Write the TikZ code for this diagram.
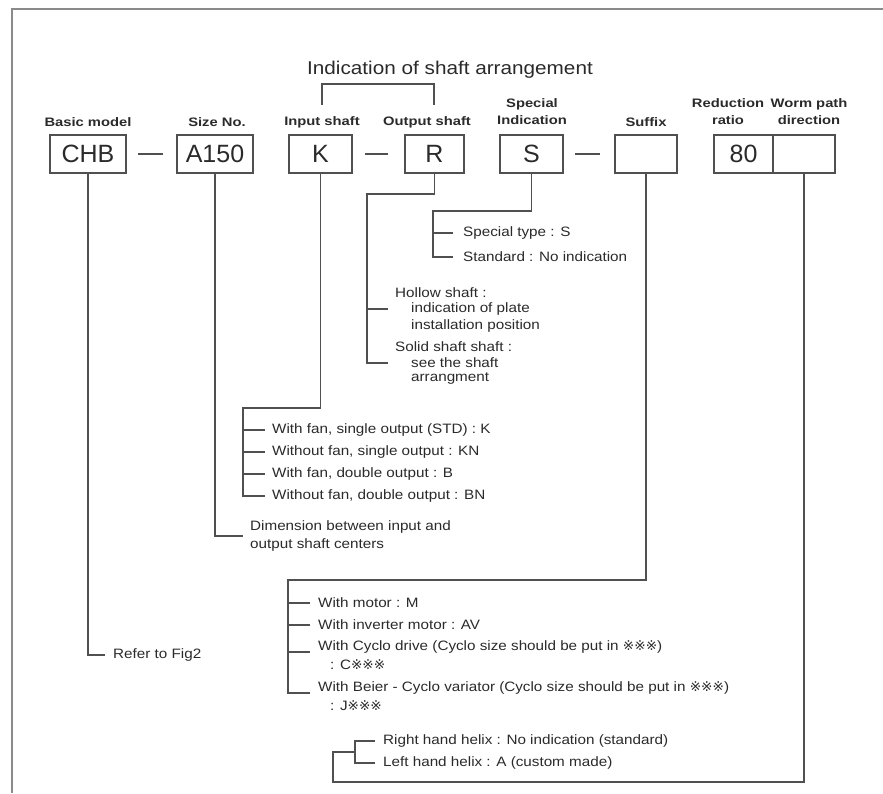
\documentclass[tikz,border=0pt]{standalone}
\usepackage{fontspec}
\setmainfont{Liberation Sans}
\newfontfamily\bodyf[FakeStretch=1.12]{Liberation Sans}
\newfontfamily\labf[FakeStretch=1.2]{Liberation Sans}
\newfontfamily\symf{DejaVu Sans}
\newcommand{\kome}{{\symf ※}}
\definecolor{linec}{HTML}{505050}
\definecolor{txtc}{HTML}{2A2A2A}
\definecolor{framec}{HTML}{8A8A8A}
\tikzset{
  ln/.style={draw=linec, line width=1.3pt},
  cbox/.style={draw=linec, line width=1.3pt, minimum height=38pt, inner sep=0pt, text=txtc, font=\fontsize{25}{28}\selectfont},
  lab/.style={font=\labf\bfseries\fontsize{12.3}{17}\selectfont, align=center, inner sep=0pt, text=txtc},
  txt/.style={font=\bodyf\fontsize{13.6}{15}\selectfont, anchor=west, inner sep=0pt, text=txtc},
}
\begin{document}
\begin{tikzpicture}[x=1pt,y=-1pt]
\useasboundingbox (0,0) rectangle (883,793);
% frame
\draw[framec, line width=2pt] (12,793) -- (12,9) -- (883,9);
% title
\node[font=\bodyf\fontsize{18.5}{20}\selectfont, text=txtc, inner sep=0pt] (title) at (450,70) {Indication of shaft arrangement};
% boxes
\node[cbox, minimum width=76pt] (chb) at (88,154) {CHB};
\node[cbox, minimum width=76pt] (a150) at (215,154) {A150};
\node[cbox, minimum width=63pt] (k) at (320.5,154) {K};
\node[cbox, minimum width=59pt] (r) at (434.5,154) {R};
\node[cbox, minimum width=63pt] (s) at (531.5,154) {S};
\node[cbox, minimum width=62pt] (suf) at (646,154) {};
\node[cbox, minimum width=59pt] (ratio) at (743.5,154) {80};
\node[cbox, minimum width=62pt] (worm) at (804,154) {};
% dashes
\coordinate (d1a) at (138,154); \coordinate (d1b) at (163,154);
\coordinate (d2a) at (365,154); \coordinate (d2b) at (388,154);
\coordinate (d3a) at (575,154); \coordinate (d3b) at (600,154);
\draw[ln] (d1a) -- (d1b);
\draw[ln] (d2a) -- (d2b);
\draw[ln] (d3a) -- (d3b);
% labels
\node[lab] (lbasic) at (88,122) {Basic model};
\node[lab] (lsize) at (217,122) {Size No.};
\node[lab] (lin) at (322,122) {Input shaft};
\node[lab] (lout) at (427,122) {Output shaft};
\node[lab] (lspec) at (532,112) {Special\\Indication};
\node[lab] (lsuf) at (646,122) {Suffix};
\node[lab] (lred) at (728,112) {Reduction\\ratio};
\node[lab] (lworm) at (809,112) {Worm path\\direction};
% bracket over input/output shaft
\coordinate (bl) at (322,105); \coordinate (br) at (434,105);
\draw[ln] (bl) -- (322,84) -- (434,84) -- (br);
% texts
\node[txt] (reffig) at (113,655) {Refer to Fig2};
\node[txt] (dim1) at (250,527) {Dimension between input and};
\node[txt] (dim2) at (250,545) {output shaft centers};
\node[txt] (k1) at (272,430) {With fan, single output (STD) : K};
\node[txt] (k2) at (272,452) {Without fan, single output : KN};
\node[txt] (k3) at (272,474) {With fan, double output : B};
\node[txt] (k4) at (272,496) {Without fan, double output : BN};
\node[txt] (h1) at (395,293) {Hollow shaft :};
\node[txt] (h2) at (411,309) {indication of plate};
\node[txt] (h3) at (411,326) {installation position};
\node[txt] (so1) at (395,347) {Solid shaft shaft :};
\node[txt] (so2) at (411,363) {see the shaft};
\node[txt] (so3) at (411,379) {arrangment};
\node[txt] (s1) at (463,233) {Special type : S};
\node[txt] (s2) at (463,257) {Standard : No indication};
\node[txt] (m1) at (318,603) {With motor : M};
\node[txt] (m2) at (318,625) {With inverter motor : AV};
\node[txt] (m3) at (318,647) {With Cyclo drive (Cyclo size should be put in \kome\kome\kome)};
\node[txt] (m3b) at (330,665) {: C\kome\kome\kome};
\node[txt] (m4) at (318,688) {With Beier - Cyclo variator (Cyclo size should be put in \kome\kome\kome)};
\node[txt] (m4b) at (330,706) {: J\kome\kome\kome};
\node[txt] (w1) at (383,741) {Right hand helix : No indication (standard)};
\node[txt] (w2) at (383,763) {Left hand helix : A (custom made)};
% connectors
\draw[ln] (chb.south) |- ([xshift=-8pt]reffig.west);
\draw[ln] (a150.south) |- ([xshift=-7pt,yshift=-9pt]dim1.west);
\coordinate (kc) at (243,408);
\draw[ln] (k.south) |- (kc) |- ([xshift=-7pt]k4.west);
\foreach \n in {k1,k2,k3} \draw[ln] ([xshift=-29pt]\n.west) -- ([xshift=-7pt]\n.west);
\coordinate (rc) at (367,194);
\draw[ln] (r.south) |- (rc) |- ([xshift=-23pt]so2.west);
\draw[ln] ([xshift=-44pt]h2.west) -- ([xshift=-23pt]h2.west);
\coordinate (sc) at (433,211);
\draw[ln] (s.south) |- (sc) |- ([xshift=-10pt]s2.west);
\draw[ln] ([xshift=-30pt]s1.west) -- ([xshift=-10pt]s1.west);
\coordinate (mc) at (288,580);
\draw[ln] (suf.south) |- (mc) |- ([xshift=-8pt,yshift=-5pt]m4.west);
\draw[ln] ([xshift=-30pt]m1.west) -- ([xshift=-8pt]m1.west);
\draw[ln] ([xshift=-30pt]m2.west) -- ([xshift=-8pt]m2.west);
\draw[ln] ([xshift=-30pt,yshift=-5pt]m3.west) -- ([xshift=-8pt,yshift=-5pt]m3.west);
\coordinate (wc) at (333,782);
\coordinate (wi) at (355,752);
\draw[ln] (worm.south) |- (wc) |- (wi);
\draw[ln] ([xshift=-8pt]w1.west) -| ([xshift=-28pt]w2.west) -- ([xshift=-8pt]w2.west);
\end{tikzpicture}
\end{document}
